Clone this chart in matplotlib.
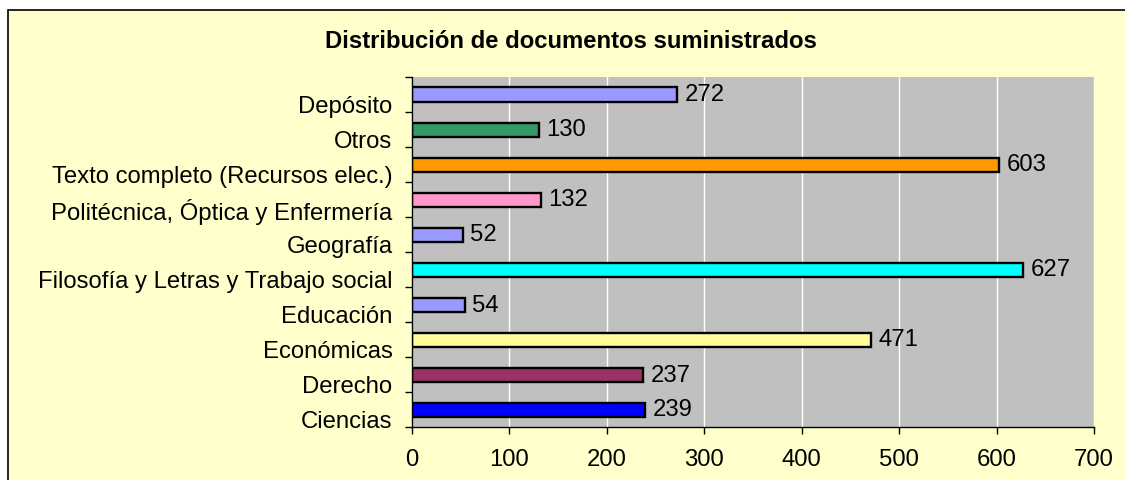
import matplotlib
matplotlib.use("Agg")
import matplotlib.pyplot as plt
from matplotlib.patches import Rectangle
from matplotlib.ticker import FixedLocator, NullFormatter
from matplotlib.transforms import ScaledTranslation

plt.rcParams['font.family'] = ['Liberation Sans', 'DejaVu Sans']

categories = ["Ciencias", "Derecho", "Económicas", "Educación",
              "Filosofía y Letras y Trabajo social", "Geografía",
              "Politécnica, Óptica y Enfermería", "Texto completo (Recursos elec.)",
              "Otros", "Depósito"]
values = [239, 237, 471, 54, 627, 52, 132, 603, 130, 272]
colors = ["#0000FF", "#993366", "#FFFF99", "#9999FF", "#00FFFF", "#9999FF",
          "#FF99CC", "#FF9900", "#339966", "#9999FF"]
title = "Distribución de documentos suministrados"
xticks = [0, 100, 200, 300, 400, 500, 600, 700]

FS = 17.2
W, H = 1125, 481
fig = plt.figure(figsize=(W / 100, H / 100), dpi=100)
fig.patch.set_facecolor("white")
fig.patches.append(Rectangle((8 / W, -0.1), 1.2, 1 - 11 / H + 0.1,
                             transform=fig.transFigure, facecolor="#FFFFCC",
                             edgecolor="black", linewidth=1.2, zorder=-10))

ax = fig.add_axes([412 / W, 1 - 428 / H, (1094 - 412) / W, (428 - 78) / H])
ax.set_zorder(2)
ax.set_facecolor("#C0C0C0")
ypos = list(range(len(categories)))
ax.barh(ypos, values, height=0.4, color=colors, edgecolor="black",
        linewidth=1.7, zorder=3)
for y, v in zip(ypos, values):
    ax.annotate(str(v), (v, y), xytext=(5.5, 0), textcoords="offset points",
                va="center", ha="left", fontsize=FS, zorder=4)

ax.set_xlim(0, 700)
ax.set_ylim(-0.5, len(categories) - 0.5)
ax.set_xticks(xticks)
ax.set_xticklabels([str(t) for t in xticks], fontsize=FS)
ax.set_yticks(ypos)
ax.set_yticklabels(categories, fontsize=FS)
ax.tick_params(axis="y", which="major", length=0, pad=14)
ax.yaxis.set_minor_locator(FixedLocator([i - 0.5 for i in range(len(categories) + 1)]))
ax.yaxis.set_minor_formatter(NullFormatter())
ax.tick_params(axis="y", which="minor", length=5, width=1, direction="out")
ax.tick_params(axis="x", which="major", length=5, width=1, direction="out", pad=10)
ax.grid(axis="x", color="white", linewidth=1, zorder=1)
ax.set_axisbelow(True)
for s in ["top", "right"]:
    ax.spines[s].set_visible(False)
for s in ["left", "bottom"]:
    ax.spines[s].set_linewidth(1)
    ax.spines[s].set_zorder(5)

shift = ScaledTranslation(0, -9 / 100, fig.dpi_scale_trans)
for lbl in ax.get_yticklabels():
    lbl.set_transform(lbl.get_transform() + shift)

fig.text(571 / W, 1 - 42 / H, title, ha="center", va="center",
         fontsize=FS, fontweight="bold")

fig.savefig("out.png", dpi=100, facecolor=fig.get_facecolor())
